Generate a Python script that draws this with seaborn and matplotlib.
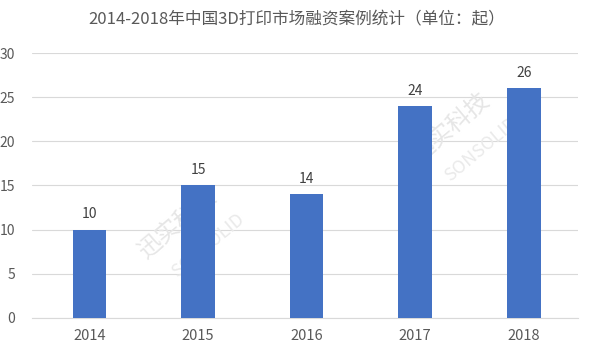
import matplotlib
matplotlib.use("Agg")
import matplotlib.pyplot as plt
import seaborn as sns
import pandas as pd

years = ["2014", "2015", "2016", "2017", "2018"]
counts = [10, 15, 14, 24, 26]
title = "2014-2018年中国3D打印市场融资案例统计（单位：起）"

sns.set_theme(style="white")
plt.rcParams['font.family'] = ['Noto Sans CJK SC', 'DejaVu Sans']

df = pd.DataFrame({"year": years, "count": counts})
fig = plt.figure(figsize=(5.94, 3.56), dpi=100)
ax = fig.add_axes([0.054, 0.107, 0.919, 0.744])
sns.barplot(data=df, x="year", y="count", color="#4472C4", width=0.31,
            saturation=1, ax=ax, zorder=3, linewidth=0)
ax.set_xlim(-0.53, 4.5)
ax.set_ylim(0, 30)
ax.set_yticks(range(0, 31, 5))
ax.yaxis.grid(True, color="#D9D9D9", linewidth=0.8, zorder=0)
ax.set_axisbelow(True)
for s in ["top", "right", "left"]:
    ax.spines[s].set_visible(False)
ax.spines["bottom"].set_color("#D9D9D9")
ax.spines["bottom"].set_linewidth(0.8)
ax.set_xlabel("")
ax.set_ylabel("")
ax.tick_params(axis="x", length=0, labelsize=10.5, colors="#595959", pad=8)
ax.tick_params(axis="y", length=0, labelsize=10, colors="#595959", pad=12)
for c in ax.containers:
    ax.bar_label(c, padding=6, fontsize=10, color="#404040")
fig.text(0.5, 0.945, title, ha="center", va="center", fontsize=12, color="#595959")

# watermarks (behind bars)
for (x, y) in [(0.30, 0.33), (0.76, 0.60)]:
    ax.text(x, y + 0.04, "迅实科技", rotation=40, fontsize=17, color="#E6E6E6",
            ha="center", va="center", zorder=2, transform=fig.transFigure)
    ax.text(x + 0.05, y - 0.02, "SONSOLID", rotation=40, fontsize=13, color="#EAEAEA",
            ha="center", va="center", zorder=2, transform=fig.transFigure)

fig.savefig("out.png", dpi=100)
